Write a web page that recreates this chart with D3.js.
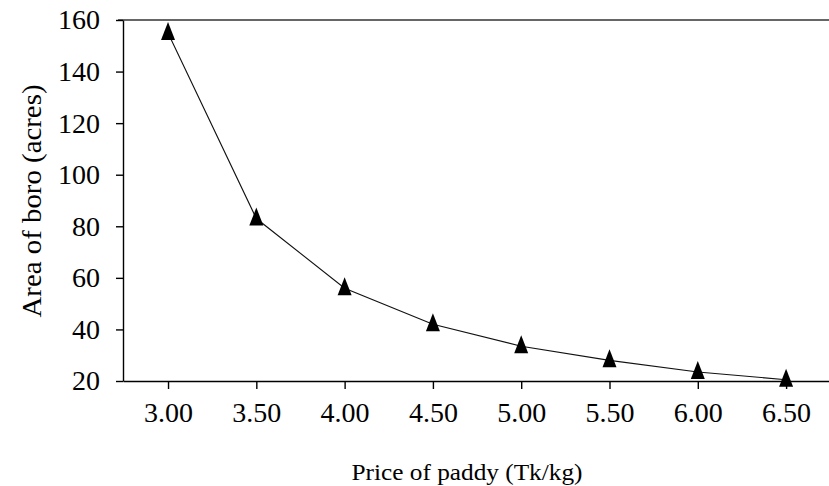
<!DOCTYPE html>
<html>
<head>
<meta charset="utf-8">
<script src="https://cdnjs.cloudflare.com/ajax/libs/d3/7.8.5/d3.min.js"></script>
<style>
  body { margin: 0; background: #fff; }
  svg { display: block; font-family: "Liberation Serif", "Times New Roman", serif; }
  .axis path, .axis line { stroke: #000; stroke-width: 1.4; }
</style>
</head>
<body>
<div id="viz"></div>
<script>
const prices = [3.00, 3.50, 4.00, 4.50, 5.00, 5.50, 6.00, 6.50];
const areas = [155, 83, 56, 42, 33.5, 28, 23.5, 20.5];
const xTickValues = [3.00, 3.50, 4.00, 4.50, 5.00, 5.50, 6.00, 6.50];
const yTickValues = [20, 40, 60, 80, 100, 120, 140, 160];

const width = 829;
const height = 486;
const plotLeft = 123, plotRight = 829, plotTop = 20, plotBottom = 381;
const serif = '"Liberation Serif", "Times New Roman", serif';

const x = d3.scaleLinear().domain([2.745, 6.743]).range([plotLeft, plotRight]);
const y = d3.scaleLinear().domain([20, 160]).range([plotBottom, plotTop]);

const svg = d3.select('#viz').append('svg')
  .attr('width', width)
  .attr('height', height);

// top rule
svg.append('line')
  .attr('x1', plotLeft - 5).attr('x2', plotRight)
  .attr('y1', y(160)).attr('y2', y(160))
  .attr('stroke', '#333').attr('stroke-width', 1.4);

const xAxis = svg.append('g')
  .attr('class', 'axis')
  .attr('transform', `translate(0, ${plotBottom})`)
  .call(d3.axisBottom(x).tickValues(xTickValues).tickFormat(d3.format('.2f'))
    .tickSize(8).tickSizeOuter(0).tickPadding(13));

const yAxis = svg.append('g')
  .attr('class', 'axis')
  .attr('transform', `translate(${plotLeft}, 0)`)
  .call(d3.axisLeft(y).tickValues(yTickValues).tickSize(7).tickSizeOuter(0).tickPadding(16));

[xAxis, yAxis].forEach(g => {
  g.attr('font-family', null).attr('font-size', null);
  g.selectAll('text')
    .style('font-family', serif)
    .style('font-size', '28px')
    .attr('fill', '#000');
});

const pts = prices.map((p, i) => [p, areas[i]]);

svg.append('path')
  .datum(pts)
  .attr('fill', 'none')
  .attr('stroke', '#111')
  .attr('stroke-width', 1.1)
  .attr('d', d3.line().x(d => x(d[0])).y(d => y(d[1])));

svg.selectAll('.marker').data(pts)
  .enter().append('path')
  .attr('class', 'marker')
  .attr('d', 'M0,-11L7,7L-7,7Z')
  .attr('fill', '#000')
  .attr('transform', d => `translate(${x(d[0])}, ${y(d[1])})`);

svg.append('text')
  .attr('x', 467).attr('y', 480)
  .attr('text-anchor', 'middle')
  .attr('textLength', 231)
  .attr('lengthAdjust', 'spacingAndGlyphs')
  .style('font-family', serif)
  .style('font-size', '23px')
  .text('Price of paddy (Tk/kg)');

svg.append('text')
  .attr('transform', `translate(41, 201) rotate(-90)`)
  .attr('text-anchor', 'middle')
  .attr('textLength', 233)
  .attr('lengthAdjust', 'spacingAndGlyphs')
  .style('font-family', serif)
  .style('font-size', '27px')
  .text('Area of boro (acres)');
</script>
</body>
</html>
